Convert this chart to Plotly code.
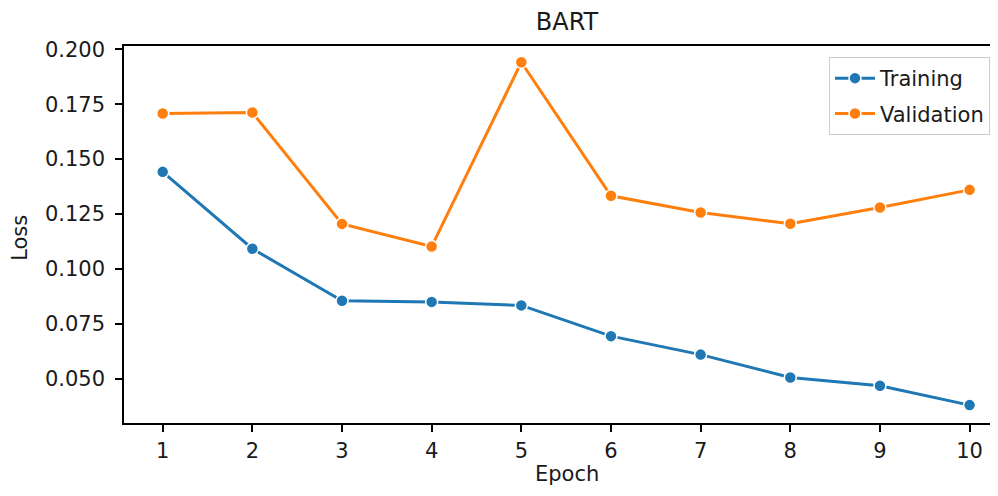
import plotly.graph_objects as go

epochs = [1, 2, 3, 4, 5, 6, 7, 8, 9, 10]
training_loss = [0.1442, 0.1092, 0.0855, 0.0850, 0.0834, 0.0694, 0.0610, 0.0506, 0.0468, 0.0380]
validation_loss = [0.1708, 0.1712, 0.1205, 0.1102, 0.1941, 0.1333, 0.1257, 0.1206, 0.1280, 0.1360]
y_ticks = [0.050, 0.075, 0.100, 0.125, 0.150, 0.175, 0.200]
y_tick_labels = ["0.050", "0.075", "0.100", "0.125", "0.150", "0.175", "0.200"]

blue = "#1f77b4"
orange = "#ff7f0e"
ink = "#1a1a1a"
font = "DejaVu Sans, Liberation Sans, sans-serif"

fig = go.Figure()
fig.add_trace(go.Scatter(
    x=epochs, y=training_loss, name="Training", mode="lines+markers",
    legendgroup="t",
    line=dict(color=blue, width=3),
    marker=dict(color=blue, size=12, line=dict(color="white", width=1.5)),
))
fig.add_trace(go.Scatter(
    x=epochs, y=validation_loss, name="Validation", mode="lines+markers",
    legendgroup="v",
    line=dict(color=orange, width=3),
    marker=dict(color=orange, size=12, line=dict(color="white", width=1.5)),
))

axis_common = dict(
    showline=True, linecolor="black", linewidth=1.5,
    ticks="outside", ticklen=7, tickcolor="black", tickwidth=1.5,
    showgrid=False, zeroline=False,
    tickfont=dict(family=font, size=21, color=ink),
)

fig.update_layout(
    width=982, height=480,
    margin=dict(l=116, r=0, t=38, b=65, pad=0),
    paper_bgcolor="white", plot_bgcolor="white",
    font=dict(family=font, color=ink),
    title=dict(text="BART", xref="container", x=(567 - 8) / 982, xanchor="center",
               yref="container", y=1 - 5 / 480, yanchor="top",
               pad=dict(t=0, b=0, l=0, r=0),
               font=dict(family=font, size=24, color=ink)),
    xaxis=dict(range=[0.5684, 10.2275], tickmode="array", tickvals=epochs,
               mirror=True, ticklabelstandoff=1, **axis_common),
    yaxis=dict(range=[0.02986, 0.2015], tickmode="array", tickvals=y_ticks,
               ticktext=y_tick_labels, mirror=False, ticklabelstandoff=6,
               **axis_common),
    annotations=[
        dict(text="Epoch", xref="paper", yref="paper",
             x=(567 - 124) / 866, y=(423.3 - 488) / 377.3,
             xanchor="center", yanchor="bottom", showarrow=False,
             font=dict(family=font, size=21, color=ink)),
        dict(text="Loss", xref="paper", yref="paper",
             x=(20 - 124) / 866, y=(423.3 - 238) / 377.3,
             xanchor="center", yanchor="middle", showarrow=False, textangle=-90,
             font=dict(family=font, size=21, color=ink)),
    ],
    legend=dict(x=1, xanchor="right", y=(423.3 - 57) / 377.3, yanchor="top",
                bgcolor="rgba(255,255,255,0.8)", bordercolor="#cccccc", borderwidth=1,
                font=dict(family=font, size=21, color=ink),
                itemwidth=40, traceorder="grouped", tracegroupgap=5),
    showlegend=True,
)

fig.write_html("out.html")
